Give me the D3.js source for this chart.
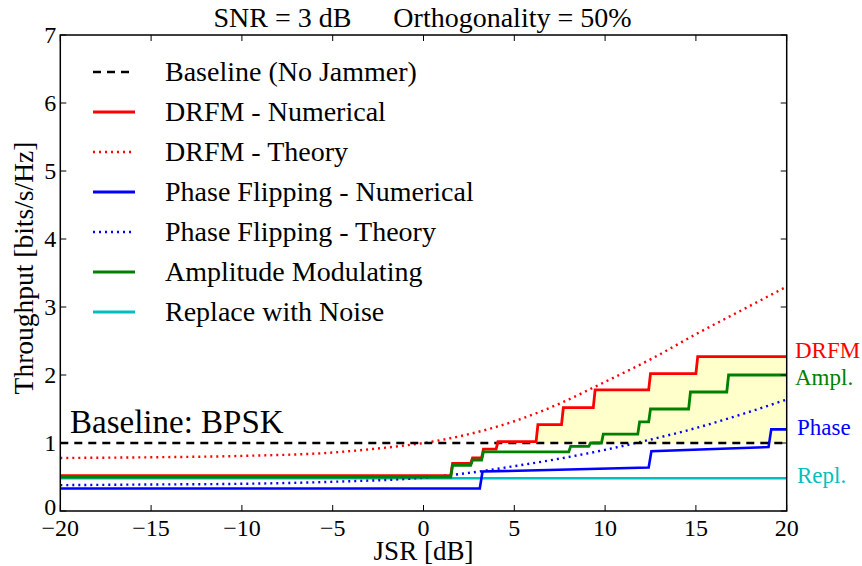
<!DOCTYPE html>
<html><head><meta charset="utf-8">
<script src="https://cdn.jsdelivr.net/npm/d3@7"></script>
<style>body{margin:0;background:#fff}svg{display:block}text{font-family:"Liberation Serif","Times New Roman",serif}</style>
</head><body><svg id="c" width="862" height="566"></svg>
<script>
// ---- data ----
const xTicks = [-20,-15,-10,-5,0,5,10,15,20];
const yTicks = [0,1,2,3,4,5,6,7];
const baselineValue = 1;

const drfmNumJsr = [-20,1.5,1.6,2.6,2.7,3.2,3.3,4.0,4.1,6.2,6.3,7.6,7.7,9.35,9.45,12.4,12.5,15.0,15.1,20];
const drfmNumVal = [0.52,0.52,0.70,0.70,0.78,0.78,0.91,0.91,1.02,1.02,1.27,1.27,1.52,1.52,1.78,1.78,2.02,2.02,2.27,2.27];

const drfmThJsr = [-20,-15,-10,-5,-2.5,0,2.5,5,7.5,10,12.5,15,17.5,20];
const drfmThVal = [0.78,0.79,0.81,0.86,0.92,1.0,1.13,1.32,1.58,1.9,2.23,2.6,2.95,3.3];

const phaseNumJsr = [-20,3.1,3.25,12.4,12.55,19.0,19.15,20];
const phaseNumVal = [0.33,0.33,0.58,0.64,0.88,0.94,1.2,1.2];

const phaseThJsr = [-20,-15,-10,-5,0,2.5,5,7.5,10,12.5,15,17.5,20];
const phaseThVal = [0.38,0.39,0.40,0.43,0.49,0.56,0.66,0.77,0.9,1.05,1.22,1.42,1.64];

const amplJsr = [-20,1.5,1.6,2.6,2.7,3.2,3.3,8.0,8.1,9.1,9.2,9.8,9.9,11.8,11.9,12.4,12.5,14.6,14.7,16.7,16.8,20];
const amplVal = [0.50,0.50,0.67,0.67,0.75,0.75,0.87,0.87,0.95,0.95,1.0,1.0,1.13,1.13,1.31,1.31,1.50,1.50,1.75,1.75,2.0,2.0];

const replJsr = [-20,20];
const replVal = [0.48,0.48];

const legendLabels = ["Baseline (No Jammer)","DRFM - Numerical","DRFM - Theory","Phase Flipping - Numerical","Phase Flipping - Theory","Amplitude Modulating","Replace with Noise"];
const sideLabels = ["DRFM","Ampl.","Phase","Repl."];

// ---- layout ----
const svg = d3.select("#c");
const L=60.3, R=786.7, T=35, B=511;
const x = d3.scaleLinear().domain([-20,20]).range([L,R]);
const y = d3.scaleLinear().domain([0,7]).range([B,T]);
const zip = (a,b)=>a.map((v,i)=>[v,b[i]]);
const line = d3.line().x(d=>x(d[0])).y(d=>y(d[1]));
const smooth = d3.line().x(d=>x(d[0])).y(d=>y(d[1])).curve(d3.curveMonotoneX);

const cRed="#ff0000", cBlue="#0000ff", cGreen="#008000", cCyan="#00bfbf";

// fill between DRFM numerical and baseline
const area = d3.area().x(d=>x(d[0])).y0(y(baselineValue)).y1(d=>y(Math.max(d[1],baselineValue)));
svg.append("path").attr("d",area(zip(drfmNumJsr,drfmNumVal))).attr("fill","#ffffcc").attr("stroke","none");

const series = [
  {d:zip(replJsr,replVal), c:cCyan, w:2.5, dash:null, gen:line},
  {d:zip(phaseNumJsr,phaseNumVal), c:cBlue, w:2.6, dash:null, gen:line},
  {d:zip(phaseThJsr,phaseThVal), c:cBlue, w:2.4, dash:"2,4", gen:smooth},
  {d:zip(drfmThJsr,drfmThVal), c:cRed, w:2.4, dash:"2,4", gen:smooth},
  {d:zip([-20,20],[baselineValue,baselineValue]), c:"#000", w:2.5, dash:"8,6", gen:line},
  {d:zip(drfmNumJsr,drfmNumVal), c:cRed, w:2.8, dash:null, gen:line},
  {d:zip(amplJsr,amplVal), c:cGreen, w:2.8, dash:null, gen:line},
];
series.forEach(s=>{
  svg.append("path").attr("d",s.gen(s.d)).attr("fill","none").attr("stroke",s.c)
    .attr("stroke-width",s.w).attr("stroke-dasharray",s.dash);
});

// axes frame
svg.append("rect").attr("x",L).attr("y",T).attr("width",R-L).attr("height",B-T)
  .attr("fill","none").attr("stroke","#000").attr("stroke-width",1.5);
const tl=6;
xTicks.forEach(t=>{
  svg.append("line").attr("x1",x(t)).attr("x2",x(t)).attr("y1",B).attr("y2",B-tl).attr("stroke","#000");
  svg.append("line").attr("x1",x(t)).attr("x2",x(t)).attr("y1",T).attr("y2",T+tl).attr("stroke","#000");
  svg.append("text").attr("x",x(t)).attr("y",B+25).attr("text-anchor","middle").attr("font-size",24)
    .text(t<0?"\u2212"+Math.abs(t):t);
});
yTicks.forEach(t=>{
  svg.append("line").attr("x1",L).attr("x2",L+tl).attr("y1",y(t)).attr("y2",y(t)).attr("stroke","#000");
  svg.append("line").attr("x1",R).attr("x2",R-tl).attr("y1",y(t)).attr("y2",y(t)).attr("stroke","#000");
  svg.append("text").attr("x",L-4).attr("y",y(t)+(t===0?4:8)).attr("text-anchor","end").attr("font-size",24).text(t);
});

// labels
svg.append("text").attr("x",(L+R)/2).attr("y",560).attr("text-anchor","middle").attr("font-size",27).text("JSR [dB]");
svg.append("text").attr("transform",`translate(33,268) rotate(-90)`).attr("text-anchor","middle")
  .attr("font-size",27.5).text("Throughput [bits/s/Hz]");
svg.append("text").attr("x",(212+633)/2).attr("y",27).attr("text-anchor","middle").attr("font-size",28)
  .attr("xml:space","preserve").style("white-space","pre").text("SNR = 3 dB      Orthogonality = 50%");
svg.append("text").attr("x",70).attr("y",y(baselineValue)-10).attr("font-size",33).text("Baseline: BPSK");

// legend
const legStyles = [
  {c:"#000",w:2.5,dash:"8,6"},{c:cRed,w:2.8,dash:null},{c:cRed,w:2.4,dash:"2,4"},
  {c:cBlue,w:2.8,dash:null},{c:cBlue,w:2.4,dash:"2,4"},{c:cGreen,w:2.8,dash:null},{c:cCyan,w:2.8,dash:null}];
legendLabels.forEach((lab,i)=>{
  const yy = 72 + i*40;
  const st = legStyles[i];
  svg.append("line").attr("x1",93).attr("x2",135).attr("y1",yy).attr("y2",yy)
    .attr("stroke",st.c).attr("stroke-width",st.w).attr("stroke-dasharray",st.dash);
  svg.append("text").attr("x",165).attr("y",yy+9).attr("font-size",28).text(lab);
});

// side labels
const sideColors=[cRed,cGreen,cBlue,cCyan];
const sideY=[358,385,435,483];
sideLabels.forEach((s,i)=>{
  svg.append("text").attr("x",i>=2?797:795).attr("y",sideY[i]).attr("font-size",23).attr("fill",sideColors[i]).text(s);
});
</script></body></html>
